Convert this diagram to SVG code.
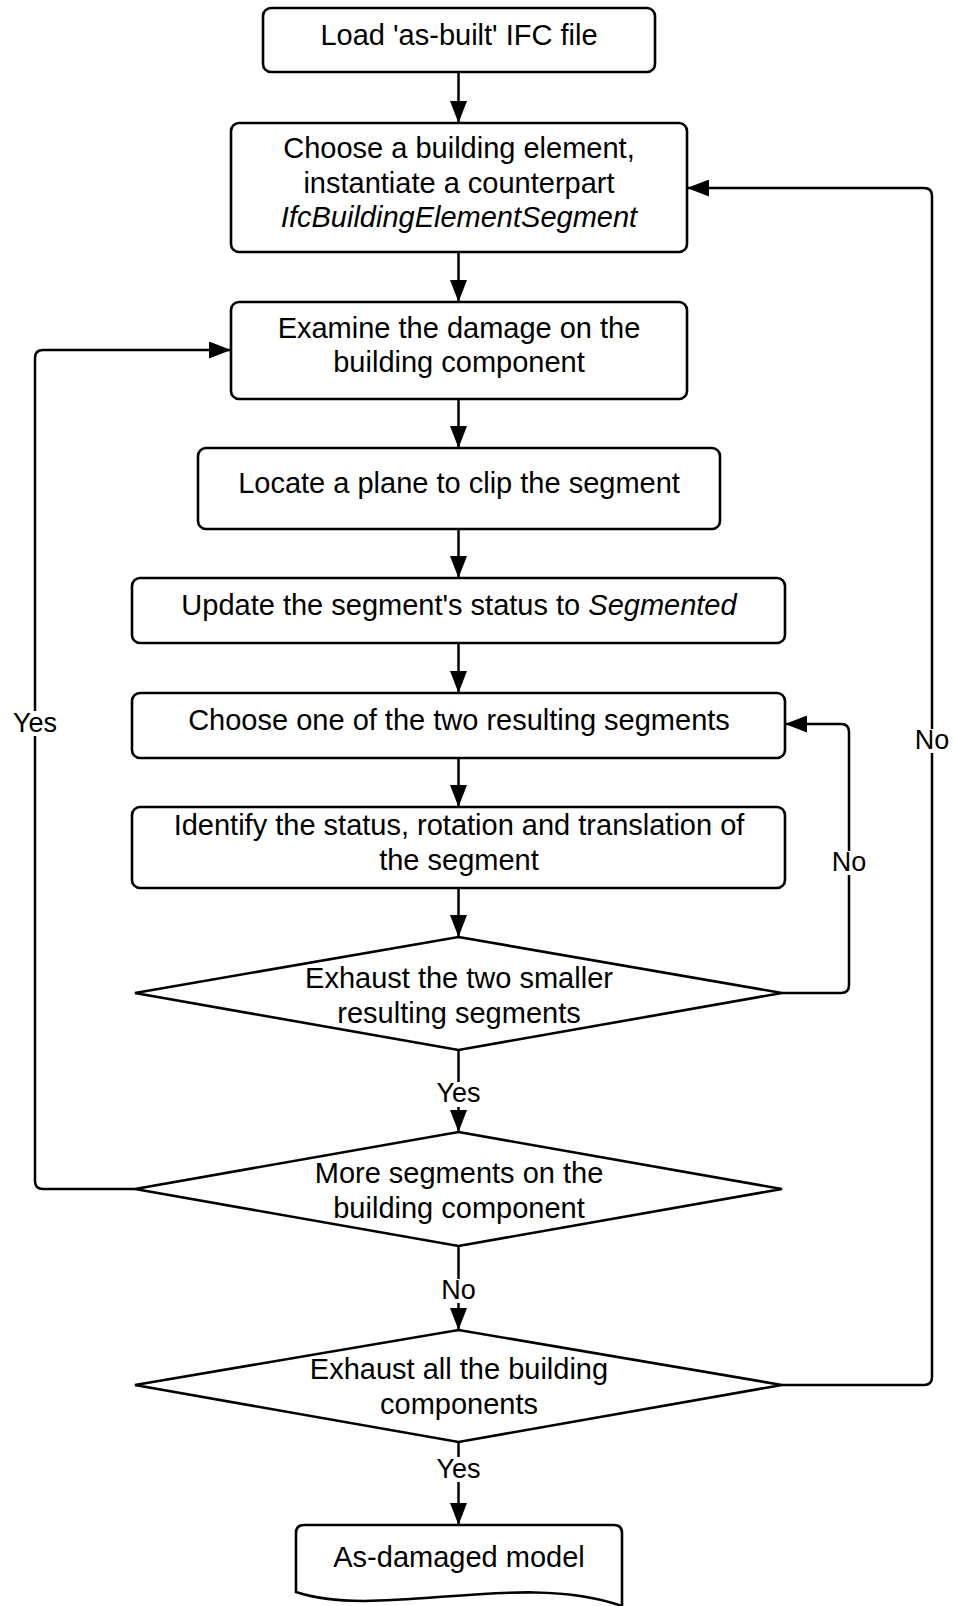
<svg xmlns="http://www.w3.org/2000/svg" width="953" height="1606" viewBox="0 0 953 1606">
<defs>
<style>
.n{fill:#fff;stroke:#000;stroke-width:2.6}
.t{font-family:"Liberation Sans",Arial,sans-serif;font-size:29px;fill:#000;text-anchor:middle}
.i{font-style:italic}
.l{font-family:"Liberation Sans",Arial,sans-serif;font-size:27px;fill:#000;text-anchor:middle}
.c{fill:none;stroke:#000;stroke-width:2.5}
.bg{fill:#fff}
</style>
<marker id="ah" viewBox="0 0 22 17" refX="22" refY="8.5" markerWidth="22" markerHeight="17" markerUnits="userSpaceOnUse" orient="auto">
<path d="M0,0 L22,8.5 L0,17 Z" fill="#000"/>
</marker>
</defs>
<rect width="953" height="1606" fill="#fff"/>
<g id="connectors">
<path class="c" d="M458.5,72 V123" marker-end="url(#ah)"/>
<path class="c" d="M458.5,252 V302" marker-end="url(#ah)"/>
<path class="c" d="M458.5,399 V448" marker-end="url(#ah)"/>
<path class="c" d="M458.5,529 V578" marker-end="url(#ah)"/>
<path class="c" d="M458.5,643 V693" marker-end="url(#ah)"/>
<path class="c" d="M458.5,758 V807" marker-end="url(#ah)"/>
<path class="c" d="M458.5,888 V937" marker-end="url(#ah)"/>
<path class="c" d="M458.5,1050 V1132" marker-end="url(#ah)"/>
<path class="c" d="M458.5,1246 V1330" marker-end="url(#ah)"/>
<path class="c" d="M458.5,1442 V1525" marker-end="url(#ah)"/>
<path class="c" d="M135,1189 H43 Q35,1189 35,1181 V358 Q35,350 43,350 H231" marker-end="url(#ah)"/>
<path class="c" d="M782,993 H841 Q849,993 849,985 V732 Q849,724 841,724 H785" marker-end="url(#ah)"/>
<path class="c" d="M782,1385 H924 Q932,1385 932,1377 V196 Q932,188 924,188 H687" marker-end="url(#ah)"/>
<rect class="bg" x="11" y="711" width="48" height="25"/>
<text class="l" x="35" y="732">Yes</text>
<rect class="bg" x="913" y="729" width="38" height="24"/>
<text class="l" x="932" y="749">No</text>
<rect class="bg" x="830" y="851" width="38" height="24"/>
<text class="l" x="849" y="871">No</text>
<rect class="bg" x="435" y="1082" width="48" height="25"/>
<text class="l" x="458.5" y="1102">Yes</text>
<rect class="bg" x="440" y="1279" width="38" height="24"/>
<text class="l" x="458.5" y="1299">No</text>
<rect class="bg" x="435" y="1457" width="48" height="25"/>
<text class="l" x="458.5" y="1478">Yes</text>
</g>
<g id="n1">
<rect class="n" x="263" y="8" width="392" height="64" rx="8"/>
<text class="t" x="459" y="45">Load 'as-built' IFC file</text>
</g>
<g id="n2">
<rect class="n" x="231" y="123" width="456" height="129" rx="8"/>
<text class="t" x="459" y="158">Choose a building element,</text>
<text class="t" x="459" y="193">instantiate a counterpart</text>
<text class="t i" x="459" y="227">IfcBuildingElementSegment</text>
</g>
<g id="n3">
<rect class="n" x="231" y="302" width="456" height="97" rx="8"/>
<text class="t" x="459" y="338">Examine the damage on the</text>
<text class="t" x="459" y="372">building component</text>
</g>
<g id="n4">
<rect class="n" x="198" y="448" width="522" height="81" rx="8"/>
<text class="t" x="459" y="493">Locate a plane to clip the segment</text>
</g>
<g id="n5">
<rect class="n" x="132" y="578" width="653" height="65" rx="8"/>
<text class="t" x="459" y="615">Update the segment's status to <tspan class="i">Segmented</tspan></text>
</g>
<g id="n6">
<rect class="n" x="132" y="693" width="653" height="65" rx="8"/>
<text class="t" x="459" y="730">Choose one of the two resulting segments</text>
</g>
<g id="n7">
<rect class="n" x="132" y="807" width="653" height="81" rx="8"/>
<text class="t" x="459" y="835">Identify the status, rotation and translation of</text>
<text class="t" x="459" y="870">the segment</text>
</g>
<g id="d1">
<polygon class="n" points="458.5,937 782,993 458.5,1050 135,993"/>
<text class="t" x="459" y="988">Exhaust the two smaller</text>
<text class="t" x="459" y="1023">resulting segments</text>
</g>
<g id="d2">
<polygon class="n" points="458.5,1132 782,1189 458.5,1246 135,1189"/>
<text class="t" x="459" y="1183">More segments on the</text>
<text class="t" x="459" y="1218">building component</text>
</g>
<g id="d3">
<polygon class="n" points="458.5,1330 782,1385 458.5,1442 135,1385"/>
<text class="t" x="459" y="1379">Exhaust all the building</text>
<text class="t" x="459" y="1414">components</text>
</g>
<g id="n8">
<path class="n" d="M304,1525 H614 Q622,1525 622,1533 V1606 C520,1570 380,1620 296,1592 V1533 Q296,1525 304,1525 Z"/>
<text class="t" x="459" y="1567">As-damaged model</text>
</g>
</svg>
